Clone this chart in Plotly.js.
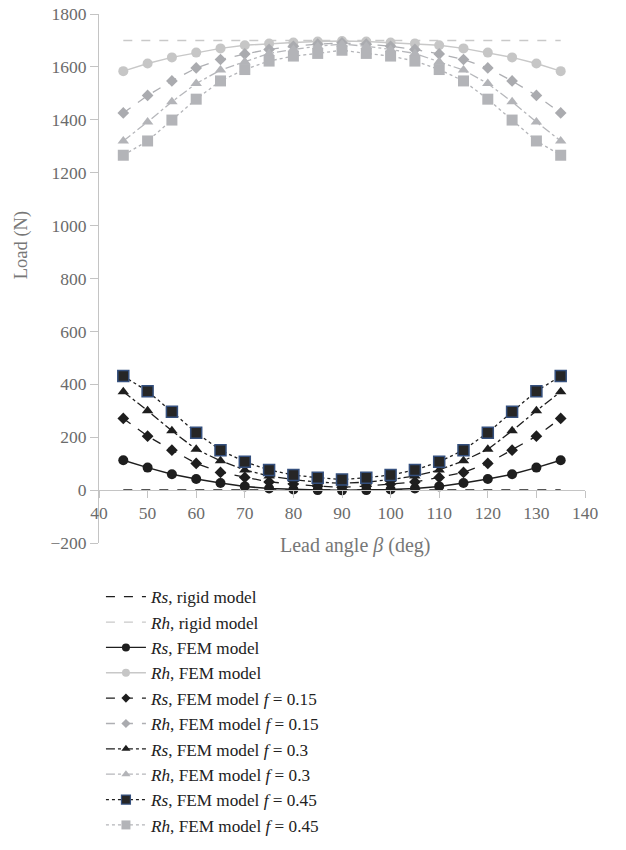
<!DOCTYPE html>
<html>
<head>
<meta charset="utf-8">
<script src="https://cdn.plot.ly/plotly-3.0.1.min.js"></script>
<style>html,body{margin:0;padding:0;background:#fff;}#chart{width:626px;height:850px;}</style>
</head>
<body>
<div id="chart"></div>
<script>
const angles = [45,50,55,60,65,70,75,80,85,90,95,100,105,110,115,120,125,130,135];
const rsRigid = [0,0,0,0,0,0,0,0,0,0,0,0,0,0,0,0,0,0,0];
const rhRigid = [1700,1700,1700,1700,1700,1700,1700,1700,1700,1700,1700,1700,1700,1700,1700,1700,1700,1700,1700];
const rsFem = [113,85,60,42,27,14,6,2,0,-1,0,2,6,14,27,42,60,85,113];
const rhFem = [1584,1613,1636,1654,1670,1682,1688,1692,1696,1698,1696,1692,1688,1682,1670,1654,1636,1613,1584];
const rsF015 = [271,204,151,101,67,48,31,23,15,11,15,23,31,48,67,101,151,204,271];
const rhF015 = [1426,1492,1547,1596,1628,1649,1666,1678,1686,1691,1686,1678,1666,1649,1628,1596,1547,1492,1426];
const rsF03 = [372,300,224,154,111,76,53,40,30,26,30,40,53,76,111,154,224,300,372];
const rhF03 = [1320,1392,1468,1537,1588,1619,1651,1666,1678,1686,1678,1666,1651,1619,1588,1537,1468,1392,1320];
const rsF045 = [431,374,296,217,151,107,76,57,47,40,47,57,76,107,151,217,296,374,431];
const rhF045 = [1266,1320,1399,1478,1547,1590,1622,1641,1651,1663,1651,1641,1622,1590,1547,1478,1399,1320,1266];

const names = [
  '<i>Rs</i>, rigid model',
  '<i>Rh</i>, rigid model',
  '<i>Rs</i>, FEM model',
  '<i>Rh</i>, FEM model',
  '<i>Rs</i>, FEM model <i>f</i> = 0.15',
  '<i>Rh</i>, FEM model <i>f</i> = 0.15',
  '<i>Rs</i>, FEM model <i>f</i> = 0.3',
  '<i>Rh</i>, FEM model <i>f</i> = 0.3',
  '<i>Rs</i>, FEM model <i>f</i> = 0.45',
  '<i>Rh</i>, FEM model <i>f</i> = 0.45'
];
const seriesY = [rsRigid, rhRigid, rsFem, rhFem, rsF015, rhF015, rsF03, rhF03, rsF045, rhF045];

const dark = '#1e1e1e';
const styles = [
  {mode:'lines', line:{color:dark, width:1.5, dash:'dash'}},
  {mode:'lines', line:{color:'#c9c9c9', width:1.5, dash:'dash'}},
  {mode:'lines+markers', line:{color:dark, width:1.5}, marker:{symbol:'circle', size:10, color:dark}},
  {mode:'lines+markers', line:{color:'#c8c8c8', width:1.5}, marker:{symbol:'circle', size:10, color:'#c6c6c6'}},
  {mode:'lines+markers', line:{color:dark, width:1.3, dash:'dash'}, marker:{symbol:'diamond', size:9, color:dark}},
  {mode:'lines+markers', line:{color:'#aeafb3', width:1.3, dash:'dash'}, marker:{symbol:'diamond', size:9, color:'#aaabaf'}},
  {mode:'lines+markers', line:{color:dark, width:1.3, dash:'dashdot'}, marker:{symbol:'triangle-up', size:10, color:dark}},
  {mode:'lines+markers', line:{color:'#b6b7bb', width:1.3, dash:'dashdot'}, marker:{symbol:'triangle-up', size:10, color:'#b3b4b8'}},
  {mode:'lines+markers', line:{color:dark, width:1.3, dash:'dot'}, marker:{symbol:'square', size:11, color:'#262626', line:{color:'#35507e', width:1.5}}},
  {mode:'lines+markers', line:{color:'#b4b5b9', width:1.3, dash:'dot'}, marker:{symbol:'square', size:11, color:'#b3b4b8'}}
];
const legendMarkerSize = [0,0,8,8,7,7,8,8,9,9];

const traces = [];
styles.forEach((s,i)=>{
  traces.push(Object.assign({x: angles, y: seriesY[i], type:'scatter', name: names[i], showlegend:false, hoverinfo:'skip'}, s));
});
styles.forEach((s,i)=>{
  const t = JSON.parse(JSON.stringify(s));
  if (t.marker) { t.marker.size = legendMarkerSize[i]; if (t.marker.line) t.marker.line.width = 1.2; }
  t.line.width = 1.3;
  traces.push(Object.assign({x:[null], y:[null], type:'scatter', name: names[i], showlegend:true, hoverinfo:'skip'}, t));
});

const H = 850, T = 14, PH = H - T;
const py = px => (H - px) / PH;

const serif = 'Liberation Serif, Times New Roman, serif';
const tickFont = {family:serif, size:17.5, color:'#6b6b6b'};
const layout = {
  width:626, height:850,
  margin:{l:99, r:41, t:T, b:0},
  paper_bgcolor:'#fff', plot_bgcolor:'#fff',
  showlegend:true,
  xaxis:{
    range:[40,140], tickvals:[40,50,60,70,80,90,100,110,120,130,140],
    anchor:'free', position:py(490),
    showline:true, linecolor:'#c4c4c4', linewidth:1,
    ticks:'outside', ticklen:7, tickcolor:'#c4c4c4',
    showgrid:false, zeroline:false, tickfont:tickFont, automargin:false
  },
  yaxis:{
    range:[-200,1800], domain:[py(543), 1],
    tickvals:[-200,0,200,400,600,800,1000,1200,1400,1600,1800],
    ticktext:['\u2212200','0','200','400','600','800','1000','1200','1400','1600','1800'],
    showline:true, linecolor:'#c4c4c4', linewidth:1,
    ticks:'outside', ticklen:8, tickcolor:'#c4c4c4',
    showgrid:false, zeroline:false, tickfont:tickFont, automargin:false
  },
  legend:{
    x:0.004, xanchor:'left', y:py(579), yanchor:'top',
    itemwidth:40, traceorder:'normal',
    font:{family:serif, size:17.2, color:'#222'},
    bgcolor:'rgba(0,0,0,0)'
  },
  annotations:[
    {text:'Lead angle <i>β</i> (deg)', xref:'paper', yref:'paper', x:0.527, y:py(545), xanchor:'center', yanchor:'middle', showarrow:false,
     font:{family:serif, size:20, color:'#777'}},
    {text:'Load (N)', xref:'paper', yref:'paper', x:-0.158, y:py(245), xanchor:'center', yanchor:'middle', textangle:-90, showarrow:false,
     font:{family:serif, size:18.5, color:'#777'}}
  ]
};
Plotly.newPlot('chart', traces, layout, {staticPlot:true, displayModeBar:false});
</script>
</body>
</html>
